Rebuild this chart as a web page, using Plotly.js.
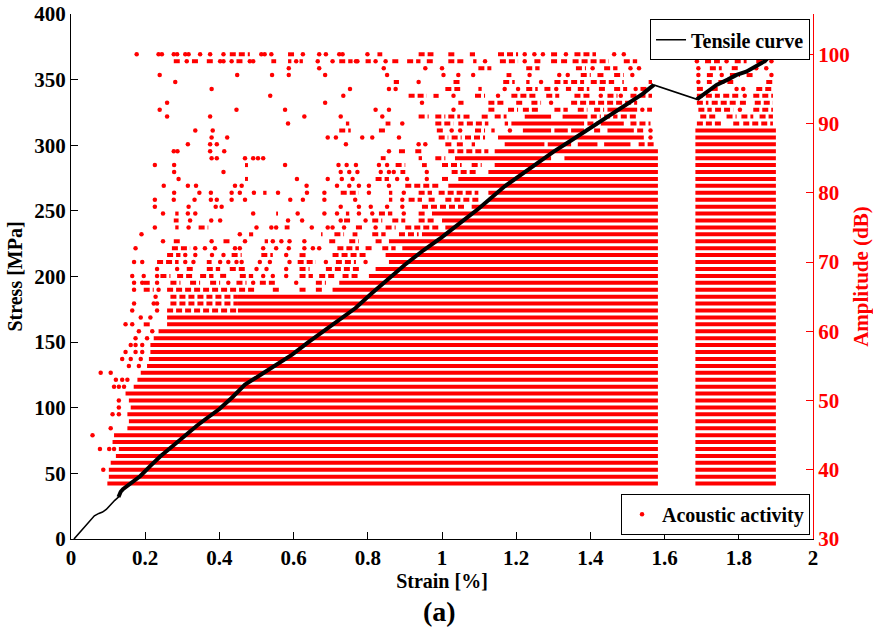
<!DOCTYPE html>
<html><head><meta charset="utf-8">
<script src="https://cdn.plot.ly/plotly-3.0.1.min.js"></script>
<style>html,body{margin:0;padding:0;background:#fff}#chart{width:873px;height:633px}</style>
</head><body><div id="chart"></div>
<script>
// ---- Tensile curve (strain %, stress MPa) ----
const curveStrain = [0.008,0.02,0.035,0.05,0.063,0.075,0.085,0.095,0.107,0.118,0.128,0.134,0.14,0.152,0.17,0.187,0.214,0.241,0.275,0.312,0.34,0.366,0.4,0.435,0.469,0.505,0.55,0.596,0.64,0.687,0.73,0.767,0.81,0.857,0.9,0.95,1.0,1.05,1.1,1.169,1.2,1.25,1.3,1.35,1.4,1.45,1.5,1.54,1.571,1.687,1.71,1.74,1.77,1.794,1.82,1.847,1.87,1.888,1.9];
const curveStress = [0,4,9,14,17.7,19.5,20.5,22.5,26.6,29.5,32,36,38,40.5,44,48,55.7,63,71,80,86.5,92,99,108,117.6,124,132,140.5,150,159.5,168,176,187,199,209,220,230,241,252,268.7,275,285,295,304,313,322,331,339,346,335,340,346,350,353.6,356,360,364,369,370];

// ---- Acoustic activity: dense runs [amplitude dB, strain from, strain to] ----
const denseRuns = [
 [38,0.098,1.582],[39,0.102,1.582],[40,0.102,1.582],[41,0.107,1.582],[42,0.121,1.582],[43,0.129,1.582],
 [44,0.112,1.582],[45,0.116,1.582],[46,0.152,1.582],[47,0.156,1.582],[48,0.152,1.582],[49,0.161,1.582],
 [50,0.156,1.582],[51,0.147,1.582],[52,0.169,1.582],[53,0.179,1.582],[54,0.188,1.582],[55,0.205,1.582],
 [56,0.21,1.582],[57,0.214,1.582],[58,0.214,1.582],[59,0.223,1.582],[60,0.236,1.582],[61,0.259,1.582],
 [62,0.259,1.582],[63,0.45,1.582],[64,0.45,1.582],[65,0.45,1.582],[66,0.705,1.582],[67,0.723,1.582],
 [68,0.803,1.582],[69,0.821,1.582],[70,0.857,1.582],[71,0.848,1.582],[72,0.893,1.582],[73,0.857,1.582],
 [74,0.946,1.582],[75,1.009,1.582],[76,1.0,1.582],[77,0.973,1.582],[78,1.08,1.582],[79,1.125,1.582],
 [80,1.125,1.582],[81,1.017,1.582],[82,1.044,1.582],[83,1.125,1.582],[84,1.142,1.582],[85,1.035,1.294],
 [85,1.33,1.582],[86,1.142,1.582],[87,1.169,1.276],[87,1.285,1.348],[87,1.366,1.419],[87,1.437,1.508],
 [88,1.151,1.544],[89,1.218,1.294],[89,1.303,1.339],[89,1.348,1.383],[89,1.446,1.517],[90,1.187,1.383],
 [90,1.428,1.49],[91,1.223,1.294],[91,1.325,1.392],[92,1.446,1.526],
 [38,1.683,1.9],[39,1.683,1.9],[40,1.683,1.9],[41,1.683,1.9],[42,1.683,1.9],[43,1.683,1.9],[44,1.683,1.9],
 [45,1.683,1.9],[46,1.683,1.9],[47,1.683,1.9],[48,1.683,1.9],[49,1.683,1.9],[50,1.683,1.9],[51,1.683,1.9],
 [52,1.683,1.9],[53,1.683,1.9],[54,1.683,1.9],[55,1.683,1.9],[56,1.683,1.9],[57,1.683,1.9],[58,1.683,1.9],
 [59,1.683,1.9],[60,1.683,1.9],[61,1.683,1.9],[62,1.683,1.9],[63,1.683,1.9],[64,1.683,1.9],[65,1.683,1.9],
 [66,1.683,1.9],[67,1.683,1.9],[68,1.683,1.9],[69,1.683,1.9],[70,1.683,1.9],[71,1.683,1.9],[72,1.683,1.9],
 [73,1.683,1.9],[74,1.683,1.9],[75,1.683,1.9],[76,1.683,1.9],[77,1.683,1.9],[78,1.683,1.9],[79,1.683,1.9],
 [80,1.683,1.9],[81,1.683,1.9],[82,1.683,1.9],[83,1.683,1.9],[84,1.683,1.9],[85,1.683,1.9],[86,1.683,1.9],
 [87,1.683,1.9],[88,1.683,1.9],[89,1.683,1.9]
];

// ---- Acoustic activity: broken (medium density) runs [amplitude dB, strain from, strain to] ----
const brokenRuns = [
 [61,0.196,0.214],[63,0.259,0.45],[64,0.268,0.45],[65,0.268,0.45],
 [66,0.196,0.223],[66,0.259,0.5],[66,0.544,0.562],[66,0.616,0.634],[66,0.66,0.678],
 [67,0.196,0.214],[67,0.268,0.295],[67,0.321,0.348],[67,0.375,0.402],[67,0.446,0.473],[67,0.509,0.553],[67,0.66,0.687],
 [68,0.241,0.268],[68,0.286,0.33],[68,0.348,0.384],[68,0.402,0.419],[68,0.455,0.491],[68,0.616,0.652],[68,0.669,0.714],[68,0.732,0.777],
 [69,0.312,0.33],[69,0.366,0.402],[69,0.428,0.473],[69,0.616,0.643],[69,0.687,0.776],
 [70,0.232,0.29],[70,0.366,0.379],[70,0.611,0.66],[70,0.714,0.768],
 [71,0.259,0.295],[71,0.433,0.46],[71,0.513,0.544],[71,0.616,0.638],[71,0.705,0.794],
 [72,0.272,0.321],[72,0.718,0.776],[72,0.794,0.812],[72,0.839,0.875],
 [73,0.277,0.299],[73,0.411,0.433],[73,0.522,0.531],[73,0.696,0.718],[73,0.75,0.776],[73,0.821,0.839],
 [74,0.48,0.491],[74,0.674,0.678],[74,0.71,0.736],[74,0.759,0.772],[74,0.812,0.848],[74,0.884,0.937],
 [75,0.281,0.29],[75,0.344,0.37],[75,0.576,0.589],[75,0.768,0.785],[75,0.848,0.875],[75,0.901,0.991],
 [76,0.277,0.29],[76,0.736,0.759],[76,0.812,0.839],[76,0.866,0.901],[76,0.937,0.982],
 [77,0.281,0.29],[77,0.553,0.558],[77,0.741,0.75],[77,0.83,0.866],[77,0.937,0.955],
 [78,0.946,1.062],
 [79,0.857,0.866],[79,0.91,0.946],[79,0.964,0.982],[79,1.009,1.098],
 [80,0.518,0.527],[80,0.727,0.776],[80,0.857,0.866],[80,0.937,0.973],[80,0.991,1.098],
 [81,0.901,0.991],
 [82,0.469,0.477],[82,0.821,0.857],[82,1.0,1.017],
 [83,0.888,0.901],[83,1.026,1.098],
 [84,0.469,0.477],[84,0.875,0.901],[84,0.946,0.959],[84,1.0,1.053],[84,1.08,1.107],
 [85,0.835,0.848],[85,0.937,0.946],[85,0.982,1.009],
 [86,0.884,0.901],[86,0.928,0.946],[86,1.017,1.125],
 [87,1.009,1.026],[87,1.04,1.062],[87,1.08,1.089],[87,1.53,1.571],
 [88,0.991,1.017],[88,1.026,1.053],[88,1.062,1.116],
 [89,0.723,0.754],[89,0.83,0.848],[89,0.986,1.009],[89,1.089,1.116],[89,1.133,1.142],[89,1.41,1.428],[89,1.526,1.544],
 [90,0.741,0.75],[90,0.848,0.861],[90,0.982,1.031],[90,1.044,1.058],[90,1.067,1.125],[90,1.169,1.178],[90,1.392,1.419],[90,1.508,1.562],
 [91,0.937,0.964],[91,0.982,1.009],[91,1.017,1.049],[91,1.058,1.08],[91,1.107,1.125],[91,1.142,1.174],[91,1.401,1.428],[91,1.437,1.473],[91,1.482,1.526],
 [92,1.125,1.142],[92,1.178,1.205],[92,1.218,1.263],[92,1.303,1.339],[92,1.366,1.392],[92,1.41,1.437],[92,1.553,1.566],
 [93,1.044,1.058],[93,1.125,1.169],[93,1.2,1.223],[93,1.241,1.267],[93,1.348,1.526],
 [94,0.91,0.959],[94,0.977,0.991],[94,1.089,1.116],[94,1.187,1.258],[94,1.281,1.316],[94,1.357,1.401],[94,1.446,1.473],[94,1.508,1.566],
 [95,1.009,1.049],[95,1.098,1.107],[95,1.227,1.258],[95,1.276,1.294],[95,1.334,1.348],[95,1.366,1.397],[95,1.423,1.446],[95,1.464,1.499],[95,1.535,1.553],
 [96,0.87,0.884],[96,1.031,1.049],[96,1.165,1.196],[96,1.227,1.236],[96,1.303,1.339],[96,1.348,1.383],[96,1.401,1.464],[96,1.486,1.49],[96,1.557,1.566],
 [97,1.174,1.187],[97,1.374,1.401],[97,1.419,1.437],[97,1.464,1.49],
 [98,1.098,1.133],[98,1.227,1.263],[98,1.361,1.388],[98,1.437,1.473],
 [99,0.277,0.295],[99,0.326,0.344],[99,0.366,0.384],[99,0.446,0.464],[99,0.54,0.553],[99,0.585,0.594],[99,0.616,0.625],[99,0.723,0.759],[99,0.794,0.808],[99,0.866,0.884],[99,0.906,0.942],[99,0.959,0.977],[99,1.017,1.062],[99,1.084,1.093],[99,1.156,1.205],[99,1.249,1.272],[99,1.294,1.312],[99,1.321,1.339],[99,1.352,1.45],[99,1.49,1.526],
 [100,0.428,0.482],[100,0.585,0.607],[100,0.826,0.839],[100,0.937,0.977],[100,1.017,1.04],[100,1.075,1.089],[100,1.151,1.205],[100,1.294,1.312],[100,1.357,1.415],
 [90,1.687,1.758],[90,1.785,1.803],[90,1.812,1.892],
 [91,1.696,1.74],[91,1.767,1.794],[91,1.807,1.839],[91,1.856,1.892],
 [92,1.691,1.727],[92,1.736,1.785],[92,1.839,1.892],
 [93,1.687,1.718],[93,1.727,1.794],[93,1.803,1.825],[93,1.843,1.892],
 [94,1.687,1.749],[94,1.758,1.803],[94,1.839,1.892],
 [95,1.687,1.705],[95,1.727,1.745],[95,1.847,1.892],
 [96,1.714,1.727],[96,1.745,1.785],[96,1.874,1.892],
 [97,1.714,1.736],[97,1.776,1.803],[97,1.821,1.839],
 [98,1.722,1.754],[98,1.781,1.803],
 [99,1.709,1.749],[99,1.789,1.821],[99,1.847,1.874],
 [100,1.687,1.767],[100,1.789,1.821],[100,1.874,1.888]
];

// ---- Acoustic activity: isolated hits [amplitude dB, [strains]] ----
const isolatedHits = [
 [40,[0.087]],[43,[0.078,0.103,0.116]],[45,[0.058]],[46,[0.107]],[48,[0.112,0.129]],[49,[0.129]],[50,[0.129]],
 [52,[0.116,0.129,0.143]],[53,[0.121,0.138,0.152]],[54,[0.08,0.107]],[55,[0.156,0.183]],[56,[0.138,0.161,0.188]],
 [57,[0.147,0.174,0.192]],[58,[0.161,0.174,0.192]],[59,[0.174,0.205]],[60,[0.183,0.219]],[61,[0.147,0.165]],
 [62,[0.188,0.214]],[63,[0.165,0.232]],[64,[0.17,0.223,0.232]],[65,[0.228]],[66,[0.17,0.236]],
 [67,[0.17,0.192,0.232,0.424,0.491,0.607]],[68,[0.165,0.196,0.232,0.518,0.544,0.58]],[69,[0.232,0.286,0.5,0.527,0.58]],
 [70,[0.17,0.192,0.308,0.33,0.402,0.424,0.446,0.46,0.509,0.536,0.589,0.687,0.794]],
 [71,[0.308,0.335,0.38,0.411,0.58]],
 [72,[0.174,0.335,0.361,0.388,0.442,0.455,0.518,0.553,0.587,0.629,0.652,0.669]],
 [73,[0.248,0.379,0.469,0.544,0.567,0.589,0.629]],[74,[0.19,0.455]],
 [75,[0.226,0.317,0.5,0.54,0.553,0.649,0.692,0.705,0.736,0.821]],
 [76,[0.321,0.378,0.402,0.585,0.623,0.727,0.794]],
 [77,[0.248,0.315,0.335,0.491,0.611,0.683,0.717,0.776,0.812,0.897]],
 [78,[0.226,0.317,0.39,0.406,0.727,0.776,0.808,0.852,0.893]],
 [79,[0.226,0.277,0.333,0.377,0.393,0.433,0.469,0.591,0.625,0.683,0.766,0.893]],
 [80,[0.278,0.346,0.377,0.433,0.455,0.493,0.558,0.636,0.683,0.803,0.897]],
 [81,[0.25,0.315,0.337,0.442,0.46,0.635,0.717,0.75,0.776,0.803,0.857]],
 [82,[0.29,0.609,0.692,0.73,0.759,0.879,0.906,0.959]],
 [83,[0.278,0.411,0.727,0.75,0.772,0.835,0.857,0.87,0.959]],
 [84,[0.226,0.278,0.577,0.721,0.743,0.768,0.83,0.852]],
 [85,[0.379,0.393,0.469,0.491,0.504,0.518]],[86,[0.277,0.287,0.375,0.413,0.857]],
 [87,[0.315,0.375,0.393,0.741,0.937,0.955]],[88,[0.379,0.421,0.692,0.714,0.785,0.812,0.884,1.562]],
 [89,[0.335,0.382,1.026,1.049,1.183,1.562]],[90,[0.585,0.893]],[91,[0.259,0.375,0.629,0.727,0.839]],
 [92,[0.239,0.446,0.577,0.821,0.857,1.031,1.54,1.803]],[93,[0.259,0.685,0.946,1.294]],
 [94,[0.537,0.734,1.031,1.151,1.428,1.482,1.816]],
 [95,[0.379,0.752,0.857,0.875,1.169,1.205,1.308,1.522,1.794,1.812]],[96,[0.281,0.937,1.267,1.691]],
 [97,[0.239,0.448,0.542,0.587,0.685,0.852,1.004,1.044,1.084,1.236,1.316,1.339,1.513,1.691,1.754,1.888]],
 [98,[0.587,0.669,0.843,0.955,1.0,1.406,1.508,1.531,1.691,1.847,1.874]],
 [99,[0.312,0.402,0.411,0.433,0.482,0.491,0.607,0.665,0.705,0.768,0.772,0.821,0.848,1.116,1.223,1.687,1.767,1.888]],
 [100,[0.177,0.236,0.245,0.277,0.286,0.308,0.317,0.348,0.375,0.411,0.513,0.522,0.54,0.625,0.669,0.687,0.723,0.732,0.799,1.223,1.249,1.272,1.334,1.464,1.49,1.571]]
];

// ---- Axis ticks ----
const strainTicks = [0,0.2,0.4,0.6,0.8,1,1.2,1.4,1.6,1.8,2];
const stressTicks = [0,50,100,150,200,250,300,350,400];
const ampTicks = [30,40,50,60,70,80,90,100];

// ---- build traces ----
function runsXY(runs){
  const x=[],y=[];
  runs.forEach(r=>{x.push(r[1],r[2],null);y.push(r[0],r[0],null);});
  return {x,y};
}
function hitsXY(hits){
  const x=[],y=[];
  hits.forEach(h=>h[1].forEach(s=>{x.push(s);y.push(h[0]);}));
  return {x,y};
}
const RED='#ff0000';
const d=runsXY(denseRuns), b=runsXY(brokenRuns), h=hitsXY(isolatedHits);

// thick (densely sampled) portions of the tensile curve: before the load drop and after the reload
const thickX=[],thickY=[];
curveStrain.forEach((s,i)=>{
  if(s>=0.128 && s<=1.571){thickX.push(s);thickY.push(curveStress[i]);}
});
thickX.push(null);thickY.push(null);
curveStrain.forEach((s,i)=>{
  if(s>=1.687){thickX.push(s);thickY.push(curveStress[i]);}
});

const FAM='Liberation Serif, Times New Roman, serif';
function F(size,color){return {family:FAM,size:size,color:color,weight:'bold'};}

const traces=[
 {type:'scatter',mode:'lines',x:d.x,y:d.y,yaxis:'y',line:{color:RED,width:4},connectgaps:false,showlegend:false,hoverinfo:'skip'},
 {type:'scatter',mode:'lines',x:b.x,y:b.y,yaxis:'y',line:{color:RED,width:4,dash:'6px,3px'},connectgaps:false,showlegend:false,hoverinfo:'skip'},
 {type:'scatter',mode:'markers',x:h.x,y:h.y,yaxis:'y',name:'Acoustic activity',legend:'legend2',
  marker:{color:RED,size:4.5,symbol:'circle',line:{width:0}},hoverinfo:'skip'},
 {type:'scatter',mode:'lines',x:curveStrain,y:curveStress,yaxis:'y2',name:'Tensile curve',legend:'legend',
  line:{color:'#000',width:1.6},hoverinfo:'skip'},
 {type:'scatter',mode:'lines',x:thickX,y:thickY,yaxis:'y2',showlegend:false,connectgaps:false,
  line:{color:'#000',width:4},hoverinfo:'skip'}
];

const layout={
 width:873,height:633,
 margin:{l:71,r:60,t:14,b:94},
 paper_bgcolor:'#fff',plot_bgcolor:'#fff',
 font:F(20,'#000'),
 showlegend:true,
 xaxis:{range:[0,2],tickvals:strainTicks,ticks:'inside',ticklen:7,tickcolor:'#000',
   showline:true,linecolor:'#000',linewidth:1,showgrid:false,zeroline:false,
   tickfont:F(21,'#000'),
   title:{text:'Strain [%]',font:F(20,'#000'),standoff:4}},
 yaxis:{range:[30,105.82],side:'right',tickvals:ampTicks,ticks:'inside',ticklen:7,tickcolor:RED,
   showline:true,linecolor:RED,linewidth:1,showgrid:false,zeroline:false,
   tickfont:F(21,RED),
   title:{text:'Amplitude (dB)',font:F(21,RED),standoff:8}},
 yaxis2:{range:[0,400],side:'left',overlaying:'y',tickvals:stressTicks,ticks:'inside',ticklen:7,tickcolor:'#000',
   showline:true,linecolor:'#000',linewidth:1,showgrid:false,zeroline:false,
   tickfont:F(21,'#000'),
   title:{text:'Stress [MPa]',font:F(20,'#000'),standoff:6}},
 legend:{x:0.996,y:0.99,xanchor:'right',yanchor:'top',bgcolor:'#fff',bordercolor:'#000',borderwidth:1,
   font:F(20,'#000'),itemwidth:30},
 legend2:{x:0.996,y:0.008,xanchor:'right',yanchor:'bottom',bgcolor:'#fff',bordercolor:'#000',borderwidth:1,
   font:F(20,'#000'),itemwidth:30},
 annotations:[{text:'(a)',xref:'paper',yref:'paper',x:0.496,y:-0.139,xanchor:'center',yanchor:'middle',
   showarrow:false,font:F(28,'#000')}]
};

Plotly.newPlot('chart',traces,layout,{displayModeBar:false,staticPlot:true});
</script></body></html>
